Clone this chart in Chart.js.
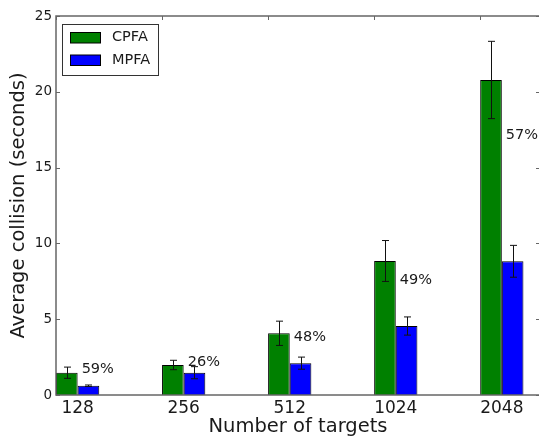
<!DOCTYPE html>
<html><head><meta charset="utf-8">
<script src="https://cdn.jsdelivr.net/npm/chart.js@4"></script>
<style>html,body{margin:0;padding:0;overflow:hidden;background:#fff}#wrap{width:545px;height:440px;position:relative}</style>
</head><body><div id="wrap"><canvas id="c" width="545" height="440"></canvas></div>
<script>
const categories = ['128', '256', '512', '1024', '2048'];
const seriesNames = ['CPFA', 'MPFA'];
const cpfaValues = [1.47, 1.98, 4.07, 8.84, 20.78];
const cpfaErrors = [0.37, 0.31, 0.80, 1.35, 2.55];
const mpfaValues = [0.61, 1.47, 2.10, 4.55, 8.82];
const mpfaErrors = [0.05, 0.40, 0.40, 0.60, 1.05];
const percentLabels = ['59%', '26%', '48%', '49%', '57%'];
const percentLabelY = [1.72, 2.13, 3.78, 7.59, 17.15];
const yTicks = [0, 5, 10, 15, 20, 25];

const FONT = "'DejaVu Sans', sans-serif";
const TEXT = '#1a1a1a';
const AXIS = '#666';

const errorSets = [cpfaErrors, mpfaErrors];

const errorBarPlugin = {
  id: 'errorBars',
  afterDatasetsDraw(chart) {
    const ctx = chart.ctx, ys = chart.scales.y;
    ctx.save();
    ctx.strokeStyle = '#111';
    ctx.lineWidth = 1;
    chart.data.datasets.forEach((ds, di) => {
      const meta = chart.getDatasetMeta(di);
      meta.data.forEach((el, i) => {
        const v = ds.data[i].y, e = errorSets[di][i];
        const x = Math.round(el.x) + 0.5;
        const t = ys.getPixelForValue(v + e), b = ys.getPixelForValue(v - e);
        ctx.beginPath();
        ctx.moveTo(x, t); ctx.lineTo(x, b);
        ctx.moveTo(x - 3.5, t); ctx.lineTo(x + 3.5, t);
        ctx.moveTo(x - 3.5, b); ctx.lineTo(x + 3.5, b);
        ctx.stroke();
      });
    });
    ctx.restore();
  }
};

const percentPlugin = {
  id: 'percents',
  afterDatasetsDraw(chart) {
    const ctx = chart.ctx, xs = chart.scales.x, ys = chart.scales.y;
    ctx.save();
    ctx.font = '14.5px ' + FONT;
    ctx.fillStyle = TEXT;
    ctx.textAlign = 'left';
    ctx.textBaseline = 'middle';
    percentLabels.forEach((t, i) => {
      ctx.fillText(t, xs.getPixelForValue(i) + 4, ys.getPixelForValue(percentLabelY[i]));
    });
    ctx.restore();
  }
};

const framePlugin = {
  id: 'frame',
  afterDraw(chart) {
    const ctx = chart.ctx, a = chart.chartArea, ys = chart.scales.y;
    ctx.save();
    ctx.strokeStyle = AXIS;
    ctx.lineWidth = 1.5;
    ctx.strokeRect(a.left, a.top, a.right - a.left, a.bottom - a.top);
    ctx.lineWidth = 1;
    ctx.beginPath();
    yTicks.forEach(v => {
      const y = Math.round(ys.getPixelForValue(v)) + 0.5;
      ctx.moveTo(a.left, y); ctx.lineTo(a.left + 4, y);
      ctx.moveTo(a.right, y); ctx.lineTo(a.right - 4, y);
    });
    const meta = chart.getDatasetMeta(0);
    meta.data.forEach(el => {
      const x = Math.round(el.x - el.width / 2) + 0.5;
      ctx.moveTo(x, a.top); ctx.lineTo(x, a.top + 4);
    });
    ctx.stroke();
    ctx.restore();
  }
};

const legendPlugin = {
  id: 'boxLegend',
  afterDraw(chart) {
    const ctx = chart.ctx, a = chart.chartArea;
    const x0 = a.left + 6.5, y0 = a.top + 8.5;
    ctx.save();
    ctx.fillStyle = '#fff';
    ctx.strokeStyle = '#333';
    ctx.lineWidth = 1;
    ctx.fillRect(x0, y0, 96, 51);
    ctx.strokeRect(x0, y0, 96, 51);
    ctx.font = '14.5px ' + FONT;
    ctx.textBaseline = 'middle';
    ctx.textAlign = 'left';
    chart.data.datasets.forEach((ds, i) => {
      const cy = y0 + 13 + i * 22.5;
      ctx.fillStyle = ds.backgroundColor;
      ctx.fillRect(x0 + 8, cy - 5, 30, 10.5);
      ctx.strokeStyle = '#000';
      ctx.strokeRect(x0 + 8, cy - 5, 30, 10.5);
      ctx.fillStyle = TEXT;
      ctx.fillText(ds.label, x0 + 49.5, cy);
    });
    ctx.restore();
  }
};

new Chart(document.getElementById('c'), {
  type: 'bar',
  data: {
    datasets: [
      { label: seriesNames[0], data: cpfaValues.map((v, i) => ({ x: i, y: v })), backgroundColor: '#008000', borderColor: '#000', borderWidth: 1 },
      { label: seriesNames[1], data: mpfaValues.map((v, i) => ({ x: i, y: v })), backgroundColor: '#0000ff', borderColor: '#000', borderWidth: 1 }
    ]
  },
  options: {
    responsive: false,
    animation: false,
    categoryPercentage: 0.408,
    barPercentage: 1,
    layout: { padding: { top: 16, right: 5, left: 0, bottom: 0 } },
    plugins: { legend: { display: false }, tooltip: { enabled: false } },
    scales: {
      x: {
        type: 'linear',
        offset: false,
        min: -0.204,
        max: 4.36,
        afterBuildTicks(s) { s.ticks = categories.map((_, i) => ({ value: i })); },
        afterFit(s) { s.height = 45; },
        grid: { display: false, drawTicks: false, offset: false },
        border: { display: false },
        ticks: { callback: (v) => categories[v], font: { family: FONT, size: 17 }, color: TEXT, padding: 3, maxRotation: 0, autoSkip: false },
        title: { display: true, text: 'Number of targets', font: { family: FONT, size: 19.5 }, color: TEXT, padding: { top: 0, bottom: 1 } }
      },
      y: {
        min: 0,
        max: 25,
        afterBuildTicks(s) { s.ticks = yTicks.map(v => ({ value: v })); },
        afterFit(s) { s.width = 56; },
        grid: { display: false, drawTicks: false },
        border: { display: false },
        ticks: { font: { family: FONT, size: 13.5 }, color: TEXT, padding: 4 },
        title: { display: true, text: 'Average collision (seconds)', font: { family: FONT, size: 19.5 }, color: TEXT, padding: { top: 7, bottom: 0 } }
      }
    }
  },
  plugins: [errorBarPlugin, percentPlugin, framePlugin, legendPlugin]
});
</script></body></html>
